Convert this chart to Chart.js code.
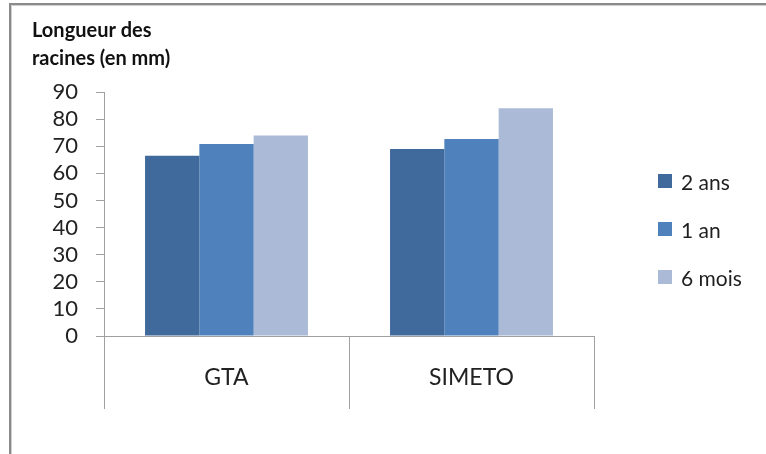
<!DOCTYPE html>
<html lang="fr">
<head>
<meta charset="utf-8">
<script src="https://cdn.jsdelivr.net/npm/chart.js@4/dist/chart.umd.min.js"></script>
<style>
    body { margin: 0; background: #fff; }
    #caixa { position: relative; width: 766px; height: 454px; }
    #legenda { position: absolute; left: 658px; top: 166px; margin: 0; padding: 0; list-style: none;
               font-family: Lato, sans-serif; font-size: 21px; color: #1f1f1f; }
    #legenda li { display: flex; align-items: center; height: 30px; margin-bottom: 18px; }
    #legenda span.cor { display: inline-block; width: 14px; height: 14px; margin-right: 9px; }
</style>
</head>
<body>
<div id="caixa">
    <canvas id="grafico" width="766" height="454"></canvas>
    <ul id="legenda"></ul>
</div>
<script>
// ==========================
// DADOS
// ==========================
const categorias = ["GTA", "SIMETO"];
const series = ["2 ans", "1 an", "6 mois"];
const valores2ans = [66.5, 69];
const valores1an = [70.8, 72.7];
const valores6mois = [74, 84];
const cores = ["#40699c", "#4f81bd", "#aabad7"];
const titulo = ["Longueur des", "racines (en mm)"];
const eixoY = { min: 0, max: 90, passo: 10 };

const cinza = "#a0a0a0";

// moldura cinza em volta do gráfico
const moldura = {
    id: "moldura",
    beforeDraw(chart) {
        const ctx = chart.ctx;
        ctx.save();
        ctx.fillStyle = "#8a8a8a";
        ctx.fillRect(9, 3, chart.width - 9, 2);
        ctx.fillRect(9, 3, 2, chart.height - 3);
        ctx.fillStyle = "#cfcfcf";
        ctx.fillRect(11, 5, chart.width - 11, 1);
        ctx.fillRect(11, 5, 1, chart.height - 5);
        ctx.restore();
    }
};

const dados = [valores2ans, valores1an, valores6mois];

const grafico = new Chart(document.getElementById("grafico"), {
    type: "bar",
    data: {
        labels: categorias,
        datasets: series.map((nome, i) => ({
            label: nome,
            data: dados[i],
            backgroundColor: cores[i],
            borderWidth: 0,
            barPercentage: 1,
            categoryPercentage: 0.665
        }))
    },
    options: {
        responsive: false,
        animation: false,
        layout: { padding: { left: 32, right: 172, top: 0, bottom: 0 } },
        plugins: {
            legend: { display: false },
            tooltip: { enabled: false },
            title: {
                display: true,
                text: titulo,
                align: "start",
                color: "#111",
                font: { family: "Lato", size: 20, weight: "bold", lineHeight: 28 / 20 },
                padding: { top: 17, bottom: 19 }
            }
        },
        scales: {
            x: {
                grid: {
                    offset: true,
                    drawOnChartArea: false,
                    tickLength: 73,
                    color: cinza
                },
                border: { color: cinza },
                ticks: {
                    color: "#222",
                    padding: -45,
                    font: { family: "Lato", size: 23 }
                },
                afterFit(escala) { escala.height = 118; }
            },
            y: {
                min: eixoY.min,
                max: eixoY.max,
                grid: {
                    drawOnChartArea: false,
                    tickLength: 8,
                    color: cinza
                },
                border: { color: cinza },
                ticks: {
                    stepSize: eixoY.passo,
                    autoSkip: false,
                    color: "#222",
                    padding: 18,
                    font: { family: "Lato", size: 22 }
                },
                afterFit(escala) { escala.width = 72; }
            }
        }
    },
    plugins: [moldura]
});

// ==========================
// LEGENDA
// ==========================
const legenda = document.getElementById("legenda");
grafico.data.datasets.forEach(ds => {
    const item = document.createElement("li");
    item.innerHTML = `<span class="cor" style="background:${ds.backgroundColor}"></span><span>${ds.label}</span>`;
    legenda.appendChild(item);
});
</script>
</body>
</html>
